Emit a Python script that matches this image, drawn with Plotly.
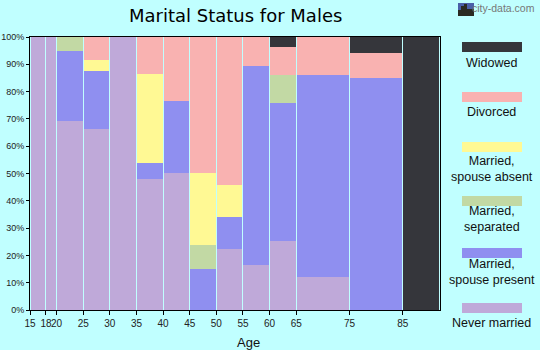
import plotly.graph_objects as go

# Age bins (edges) and share of males in each marital status, in percent
age_edges = [15, 18, 20, 25, 30, 35, 40, 45, 50, 55, 60, 65, 75, 85, 92]
x_tick_values = [15, 18, 20, 25, 30, 35, 40, 45, 50, 55, 60, 65, 75, 85]

never_married = [100, 100, 69.1, 66.4, 100, 48.1, 50.3, 0, 22.4, 16.5, 25.3, 12.1, 0, 0]
spouse_present = [0, 0, 25.6, 21.3, 0, 5.8, 26.4, 15.0, 11.7, 73.0, 50.7, 73.8, 85.1, 0]
separated = [0, 0, 5.3, 0, 0, 0, 0, 8.9, 0, 0, 9.9, 0, 0, 0]
spouse_absent = [0, 0, 0, 4.0, 0, 32.7, 0, 26.4, 11.8, 0, 0, 0, 0, 0]
divorced = [0, 0, 0, 8.3, 0, 13.4, 23.3, 49.7, 54.1, 10.5, 10.6, 14.1, 8.9, 0]
widowed = [0, 0, 0, 0, 0, 0, 0, 0, 0, 0, 3.5, 0, 6.0, 100]

series = [
    ("Never married", never_married, "#BFA9D9"),
    ("Married, spouse present", spouse_present, "#8F8FF0"),
    ("Married, separated", separated, "#C2D9A4"),
    ("Married, spouse absent", spouse_absent, "#FFF994"),
    ("Divorced", divorced, "#F9B2B1"),
    ("Widowed", widowed, "#35363B"),
]

BG = "#C0FFFF"
W, H = 540, 350
ML, MR, MT, MB = 30, 100, 37, 40
PW, PH = W - ML - MR, H - MT - MB


def px_x(px):
    return (px - ML) / PW


def px_y(py):
    return (H - MB - py) / PH


centers = [(a + b) / 2 for a, b in zip(age_edges[:-1], age_edges[1:])]
widths = [(b - a) - 0.19 for a, b in zip(age_edges[:-1], age_edges[1:])]

fig = go.Figure()
for name, vals, color in series:
    fig.add_trace(go.Bar(
        x=centers, y=vals, width=widths, name=name,
        marker=dict(color=color, line=dict(width=0)),
        showlegend=False,
    ))

shapes = []
annotations = []

# Hand-placed legend on the right: colour swatch with label underneath
legend_rows = [
    ("Widowed", 42, 62.7),
    ("Divorced", 92, 112),
    ("Married,<br>spouse absent", 142, 168.5),
    ("Married,<br>separated", 196, 219),
    ("Married,<br>spouse present", 248, 272),
    ("Never married", 303, 323.3),
]
color_by_name = {n.replace(", ", ",<br>"): c for n, _, c in series}
color_by_name.update({n: c for n, _, c in series})
for label, top, label_y in legend_rows:
    color = color_by_name[label]
    shapes.append(dict(type="rect", xref="paper", yref="paper",
                       x0=px_x(462), x1=px_x(522), y0=px_y(top + 10), y1=px_y(top),
                       fillcolor=color, line=dict(width=0)))
    annotations.append(dict(text=label, xref="paper", yref="paper",
                            x=px_x(492), y=px_y(label_y), xanchor="center", yanchor="middle",
                            showarrow=False, align="center",
                            font=dict(family="Liberation Sans, Arial, sans-serif", size=12.5, color="#111")))

# Title, centred over the plot area
annotations.append(dict(text="Marital Status for Males", xref="paper", yref="paper",
                        x=0.5, y=px_y(15), xanchor="center", yanchor="middle",
                        showarrow=False,
                        font=dict(family="DejaVu Sans, Verdana, sans-serif", size=18, color="#000")))
# Axis title
annotations.append(dict(text="Age", xref="paper", yref="paper",
                        x=px_x(248), y=px_y(342), xanchor="center", yanchor="middle",
                        showarrow=False,
                        font=dict(family="Liberation Sans, Arial, sans-serif", size=13, color="#111")))
# Site mark
shapes.append(dict(type="rect", xref="paper", yref="paper",
                   x0=px_x(458), x1=px_x(474), y0=px_y(16), y1=px_y(3),
                   fillcolor="#4A5FA8", line=dict(width=0)))
shapes.append(dict(type="path", xref="paper", yref="paper",
                   path=("M {a},{b} L {a},{c} L {d},{c} L {d},{e} L {f},{e} L {f},{g} L {h},{g} "
                         "L {h},{i} L {j},{i} L {j},{b} Z").format(
                       a=px_x(458), b=px_y(16), c=px_y(10), d=px_x(461), e=px_y(6),
                       f=px_x(464), g=px_y(4), h=px_x(467), i=px_y(9), j=px_x(474)),
                   fillcolor="#2A2A22", line=dict(width=0)))
annotations.append(dict(text="city-data.com", xref="paper", yref="paper",
                        x=px_x(537), y=px_y(8.5), xanchor="right", yanchor="middle",
                        showarrow=False,
                        font=dict(family="Liberation Sans, Arial, sans-serif", size=10.5, color="#777")))

x_tick_font = dict(family="Liberation Sans Narrow, Arial Narrow, Liberation Sans, sans-serif",
                   size=10, color="#222")
y_tick_font = dict(family="Liberation Sans Narrow, Arial Narrow, Liberation Sans, sans-serif",
                   size=9, color="#222")

fig.update_layout(
    width=W, height=H,
    margin=dict(l=ML, r=MR, t=MT, b=MB, pad=0, autoexpand=False),
    paper_bgcolor=BG, plot_bgcolor=BG,
    barmode="stack", bargap=0,
    shapes=shapes, annotations=annotations,
    xaxis=dict(range=[age_edges[0], age_edges[-1]], tickmode="array",
               tickvals=x_tick_values, ticktext=[str(v) for v in x_tick_values],
               tickangle=0, automargin=False,
               ticks="outside", ticklen=4, tickcolor="#000", tickwidth=1,
               showline=True, linecolor="#000", linewidth=1, mirror=True,
               showgrid=False, zeroline=False, tickfont=x_tick_font),
    yaxis=dict(range=[0, 100], tickmode="array",
               tickvals=list(range(0, 101, 10)),
               ticktext=[f"{v}%" for v in range(0, 101, 10)],
               automargin=False,
               ticks="outside", ticklen=3, tickcolor="#000", tickwidth=1,
               showline=True, linecolor="#000", linewidth=1, mirror=True,
               showgrid=False, zeroline=False, tickfont=y_tick_font),
)

fig.write_html("out.html")
